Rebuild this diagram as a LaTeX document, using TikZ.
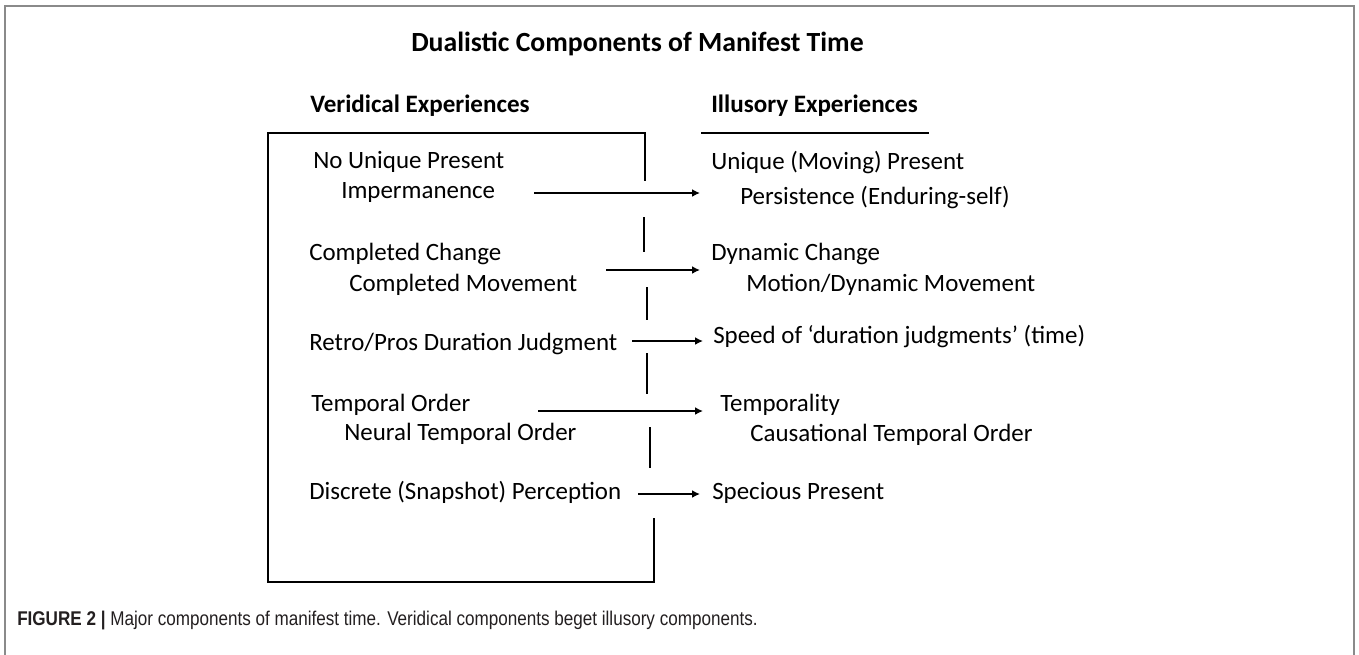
\documentclass[tikz,border=0pt]{standalone}
\usepackage{fontspec}
\setmainfont{Carlito}
\newfontfamily\capfont[FakeStretch=0.86]{Liberation Sans}
\usetikzlibrary{arrows.meta}
\definecolor{framegray}{HTML}{8A8A8A}
\definecolor{captxt}{HTML}{231F20}
\begin{document}
\begin{tikzpicture}[x=0.75pt,y=-0.75pt,
  lbl/.style={anchor=west, inner sep=0pt, text height=0.62em, text depth=0pt,
              font=\fontsize{18.7}{22}\selectfont},
  head/.style={lbl, font=\fontsize{18.8}{22}\selectfont\bfseries},
  ttl/.style={lbl, font=\fontsize{20.8}{24}\selectfont\bfseries},
  boxline/.style={line width=1.5pt, line cap=rect},
  seg/.style={line width=1.8pt},
  conn/.style={line width=1.8pt, -{Latex[length=6pt,width=6pt]}},
]
\useasboundingbox (0,0) rectangle (1359,654);
\fill[white] (0,0) rectangle (1359,654);
% outer frame
\draw[framegray, line width=1.5pt] (5,670) -- (5,6) -- (1354,6) -- (1354,670);

% title and headings
\node[ttl] (title) at (411,47) {Dualistic Components of Manifest Time};
\node[head] (ver) at (310,108) {Veridical Experiences};
\node[head] (ill) at (711,108) {Illusory Experiences};
\draw[line width=2.2pt] (701,133) -- (929,133);

% box
\draw[boxline] (645,180) -- (645,133) -- (268,133) -- (268,582) -- (654,582) -- (654,519);
\draw[seg] (644,217) -- (644,252);
\draw[seg] (647,287) -- (647,320);
\draw[seg] (647,353) -- (647,394);
\draw[seg] (650,427) -- (650,468);

% left items
\node[lbl] (nup) at (313,164) {No Unique Present};
\node[lbl] (imp) at (341,194) {Impermanence};
\node[lbl] (cc)  at (309,256) {Completed Change};
\node[lbl] (cm)  at (349,287) {Completed Movement};
\node[lbl] (rp)  at (309,346) {Retro/Pros Duration Judgment};
\node[lbl] (to)  at (311,407) {Temporal Order};
\node[lbl] (nto) at (344,436) {Neural Temporal Order};
\node[lbl] (dsp) at (309,495) {Discrete (Snapshot) Perception};

% right items
\node[lbl] (ump)  at (711,165) {Unique (Moving) Present};
\node[lbl] (pers) at (740,200) {Persistence (Enduring-self)};
\node[lbl] (dc)   at (711,256) {Dynamic Change};
\node[lbl] (mdm)  at (746,287) {Motion/Dynamic Movement};
\node[lbl] (sdj)  at (713,339) {Speed of ‘duration judgments’ (time)};
\node[lbl] (tem)  at (720,407) {Temporality};
\node[lbl] (cto)  at (750,437) {Causational Temporal Order};
\node[lbl] (sp)   at (712,495) {Specious Present};

% connectors
\coordinate (a1s) at (534,193); \coordinate (a1e) at (700,193);
\coordinate (a2s) at (606,270); \coordinate (a2e) at (700,270);
\coordinate (a3s) at (632,341); \coordinate (a3e) at (703,341);
\coordinate (a4s) at (538,411); \coordinate (a4e) at (703,411);
\coordinate (a5s) at (638,494); \coordinate (a5e) at (700,494);
\draw[conn] (a1s) -- (a1e);
\draw[conn] (a2s) -- (a2e);
\draw[conn] (a3s) -- (a3e);
\draw[conn] (a4s) -- (a4e);
\draw[conn] (a5s) -- (a5e);

% caption
\node[anchor=west, inner sep=0pt, text height=0.72em, text depth=0pt, text=captxt,
      font=\capfont\fontsize{14.9}{17}\selectfont] (cap) at (17,621)
  {\textbf{FIGURE 2 |} Major components of manifest time. Veridical components beget illusory components.};
\end{tikzpicture}
\end{document}
